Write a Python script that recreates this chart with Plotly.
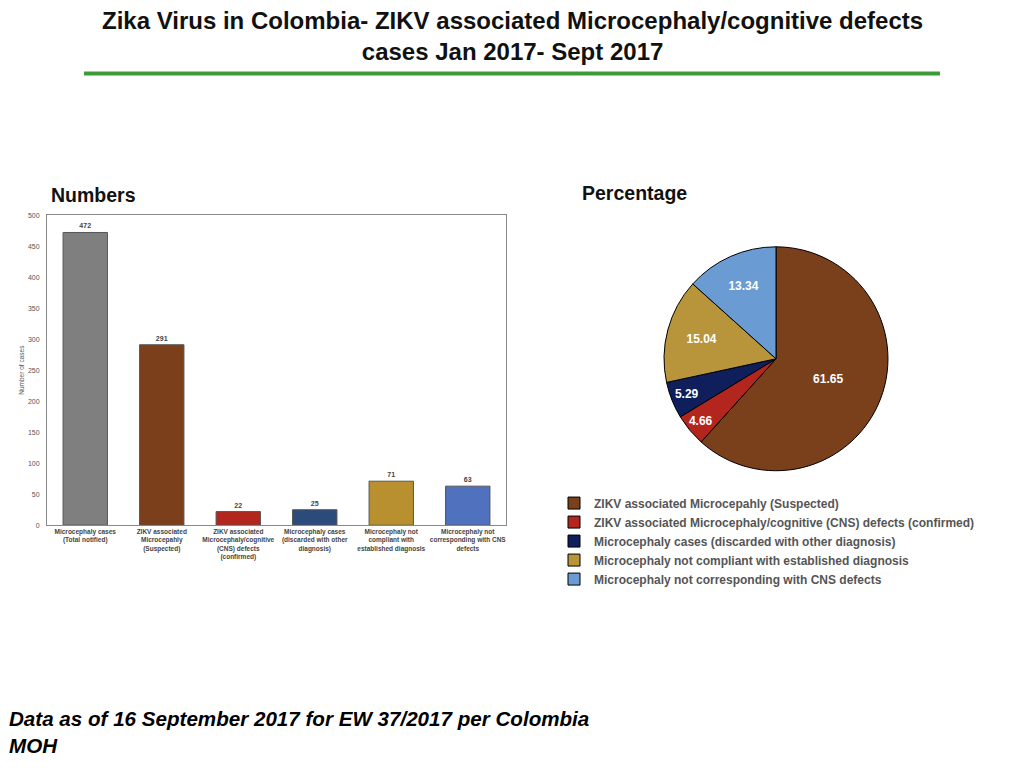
import plotly.graph_objects as go

# --- データ ---
bar_categories = [
    "Microcephaly cases<br>(Total notified)",
    "ZIKV associated<br>Microcepahly<br>(Suspected)",
    "ZIKV associated<br>Microcephaly/cognitive<br>(CNS) defects<br>(confirmed)",
    "Microcephaly cases<br>(discarded with other<br>diagnosis)",
    "Microcephaly not<br>compliant with<br>established diagnosis",
    "Microcephaly not<br>corresponding with CNS<br>defects",
]
bar_values = [472, 291, 22, 25, 71, 63]
bar_colors = ["#7f7f7f", "#7b3f1b", "#b3261e", "#2b4b7a", "#b8902f", "#4f71be"]

pie_labels = [
    "ZIKV associated Microcepahly (Suspected)",
    "ZIKV associated Microcephaly/cognitive (CNS) defects (confirmed)",
    "Microcephaly cases (discarded with other diagnosis)",
    "Microcephaly not compliant with established diagnosis",
    "Microcephaly not corresponding with CNS defects",
]
pie_values = [61.65, 4.66, 5.29, 15.04, 13.34]
pie_colors = ["#7a3f1b", "#b3261e", "#0e1f5b", "#b8953a", "#6a9bd3"]

# ページ余白 (body margin 8px) を考慮した図のサイズ
OFF = 8
W, H = 1024 - OFF, 768 - OFF


def px_x(x):
    return (x - OFF) / W


def px_y(y):
    return 1 - (y - OFF) / H


FONT = "Liberation Sans"

fig = go.Figure()

# --- 棒グラフ ---
fig.add_trace(
    go.Bar(
        x=bar_categories,
        y=bar_values,
        marker={"color": bar_colors, "line": {"color": "#555555", "width": 1}},
        width=0.58,
        text=bar_values,
        textposition="outside",
        textfont={"family": FONT, "size": 7, "color": "#444444", "weight": "bold"},
        cliponaxis=False,
        showlegend=False,
    )
)

# --- 円グラフ ---
fig.add_trace(
    go.Pie(
        labels=pie_labels,
        values=pie_values,
        sort=False,
        direction="clockwise",
        rotation=0,
        marker={"colors": pie_colors, "line": {"color": "#000000", "width": 1}},
        texttemplate="%{value:.2f}",
        textposition="inside",
        insidetextorientation="horizontal",
        textfont={"family": FONT, "size": 12, "color": "white", "weight": "bold"},
        domain={"x": [px_x(663), px_x(889)], "y": [px_y(471), px_y(245)]},
        showlegend=True,
    )
)

fig.update_layout(
    width=W,
    height=H,
    margin={"l": 0, "r": 0, "t": 0, "b": 0},
    paper_bgcolor="white",
    plot_bgcolor="white",
    xaxis={
        "domain": [px_x(47), px_x(506)],
        "showline": True,
        "linecolor": "#888888",
        "mirror": True,
        "ticks": "",
        "tickfont": {"family": FONT, "size": 6.5, "color": "#444444", "weight": "bold"},
    },
    yaxis={
        "domain": [px_y(526), px_y(213)],
        "range": [0, 500],
        "dtick": 50,
        "showgrid": False,
        "zeroline": False,
        "showline": True,
        "linecolor": "#888888",
        "mirror": True,
        "ticks": "",
        "ticklabelstandoff": 5,
        "tickfont": {"family": FONT, "size": 7, "color": "#555555"},
        "title": {
            "text": "Number of cases",
            "font": {"family": FONT, "size": 6.5, "color": "#555555"},
            "standoff": 2,
        },
    },
    legend={
        "x": px_x(554),
        "y": px_y(489),
        "xanchor": "left",
        "yanchor": "top",
        "font": {"family": FONT, "size": 12, "color": "#555555", "weight": "bold"},
        "itemwidth": 30,
        "bgcolor": "rgba(0,0,0,0)",
    },
)

# --- タイトル・見出し ---
fig.add_annotation(
    text="<b>Zika Virus in Colombia- ZIKV associated Microcephaly/cognitive defects<br>cases Jan 2017- Sept 2017</b>",
    x=px_x(512), y=px_y(32), xref="paper", yref="paper",
    xanchor="center", yanchor="middle",
    showarrow=False, align="center",
    font={"family": FONT, "size": 24, "color": "#111111"},
)
fig.add_shape(
    type="line", xref="paper", yref="paper",
    x0=px_x(84), x1=px_x(940), y0=px_y(70), y1=px_y(70),
    line={"color": "#3d9b35", "width": 4},
)
fig.add_annotation(
    text="<b>Numbers</b>", x=px_x(49), y=px_y(193), xref="paper", yref="paper",
    xanchor="left", yanchor="middle", showarrow=False,
    font={"family": FONT, "size": 19.5, "color": "#111111"},
)
fig.add_annotation(
    text="<b>Percentage</b>", x=px_x(580), y=px_y(191), xref="paper", yref="paper",
    xanchor="left", yanchor="middle", showarrow=False,
    font={"family": FONT, "size": 19.5, "color": "#111111"},
)
fig.add_annotation(
    text="<b><i>Data as of 16 September 2017 for EW 37/2017 per Colombia<br>MOH</i></b>",
    x=px_x(7), y=px_y(735), xref="paper", yref="paper",
    xanchor="left", yanchor="middle", align="left", showarrow=False,
    font={"family": FONT, "size": 20.6, "color": "#000000"},
)

fig.write_html("out.html")
